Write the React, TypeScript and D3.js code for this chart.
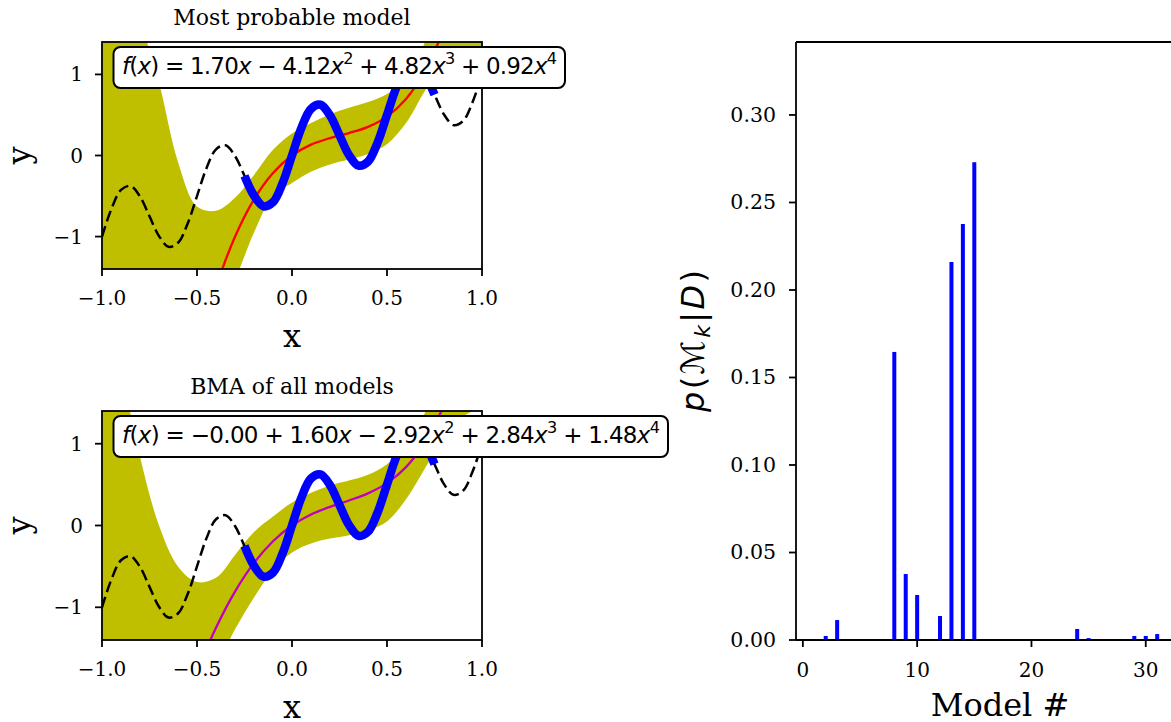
import React from "react";
import * as d3 from "d3";

// ---- values ----
const gridX = [-1.0, -0.9, -0.8, -0.7, -0.6, -0.5, -0.4, -0.3, -0.2, -0.1, 0.0, 0.1, 0.2, 0.3, 0.4, 0.5, 0.6, 0.7, 0.8, 0.9, 1.0];
const bestUpper = [3.6, 2.7, 1.7, 0.9, -0.08, -0.63, -0.68, -0.52, -0.24, 0.07, 0.27, 0.4, 0.51, 0.59, 0.66, 0.76, 0.95, 1.4, 2.1, 2.9, 3.8];
const bestLower = [-7.0, -5.8, -4.7, -3.8, -3.0, -2.4, -1.9, -1.52, -0.95, -0.5, -0.34, -0.2, -0.11, -0.05, 0.02, 0.14, 0.4, 0.8, 1.15, 1.3, 1.32];
const bmaUpper = [3.2, 1.95, 0.84, 0.0, -0.5, -0.69, -0.64, -0.36, -0.08, 0.11, 0.28, 0.4, 0.49, 0.55, 0.62, 0.75, 0.98, 1.38, 2.0, 2.8, 3.6];
const bmaLower = [-6.0, -5.0, -4.1, -3.3, -2.6, -2.05, -1.72, -1.27, -0.88, -0.55, -0.33, -0.22, -0.16, -0.12, -0.06, 0.05, 0.32, 0.7, 1.08, 1.33, 1.45];

const fitX = [-0.6, -0.5, -0.4, -0.3, -0.2, -0.1, 0.0, 0.1, 0.2, 0.3, 0.4, 0.5, 0.6, 0.7, 0.8, 0.9];
const bestFit = [-3.425, -2.425, -1.624, -1.003, -0.542, -0.216, 0, 0.134, 0.215, 0.277, 0.353, 0.48, 0.697, 1.045, 1.568, 2.31];
const bmaFit = [-2.433, -1.793, -1.251, -0.808, -0.457, -0.192, 0, 0.134, 0.228, 0.306, 0.393, 0.518, 0.714, 1.019, 1.472, 2.116];

const trueX = [-1.0, -0.95, -0.9, -0.85, -0.8, -0.75, -0.7, -0.65, -0.6, -0.55, -0.5, -0.45, -0.4, -0.35, -0.3, -0.25, -0.2, -0.15, -0.1, -0.05, 0.0,
  0.05, 0.1, 0.15, 0.2, 0.25, 0.3, 0.35, 0.4, 0.45, 0.5, 0.55, 0.6, 0.65, 0.7, 0.75, 0.8, 0.85, 0.9, 0.95, 1.0];
const trueY = [-1.0, -0.656, -0.425, -0.375, -0.506, -0.75, -0.994, -1.126, -1.076, -0.844, -0.5, -0.156, 0.076, 0.126, -0.006, -0.25, -0.494, -0.626, -0.576, -0.344, 0.0,
  0.344, 0.576, 0.626, 0.494, 0.25, 0.006, -0.126, -0.076, 0.156, 0.5, 0.844, 1.076, 1.126, 0.994, 0.75, 0.506, 0.375, 0.425, 0.656, 1.0];

const dataX = [-0.25, -0.2, -0.15, -0.1, -0.05, 0.0, 0.05, 0.1, 0.15, 0.2, 0.25, 0.3, 0.35, 0.4, 0.45, 0.5, 0.55, 0.6, 0.65, 0.7, 0.75];
const dataY = [-0.25, -0.494, -0.626, -0.576, -0.344, 0.0, 0.344, 0.576, 0.626, 0.494, 0.25, 0.006, -0.126, -0.076, 0.156, 0.5, 0.844, 1.076, 1.126, 0.994, 0.75];

const modelIds = [0, 1, 2, 3, 4, 5, 6, 7, 8, 9, 10, 11, 12, 13, 14, 15, 16, 17, 18, 19, 20, 21, 22, 23, 24, 25, 26, 27, 28, 29, 30, 31, 32];
const modelProbs = [0, 0, 0.0023, 0.0114, 0, 0, 0, 0, 0.1646, 0.0377, 0.0257, 0, 0.0137, 0.216, 0.2377, 0.273, 0, 0, 0, 0, 0, 0, 0, 0,
  0.0063, 0.0011, 0.0005, 0, 0.0005, 0.0023, 0.0023, 0.0034, 0];

const leftXTicks = [-1, -0.5, 0, 0.5, 1];
const leftYTicks = [-1, 0, 1];
const barXTicks = [0, 10, 20, 30];
const barYTicks = [0, 0.05, 0.1, 0.15, 0.2, 0.25, 0.3];

const bestTitle = "Most probable model";
const bmaTitle = "BMA of all models";
const bestEq = "f(x) = 1.70x − 4.12x^2 + 4.82x^3 + 0.92x^4";
const bmaEq = "f(x) = −0.00 + 1.60x − 2.92x^2 + 2.84x^3 + 1.48x^4";

const serif = "DejaVu Serif";
const sans = "DejaVu Sans";

// renders a tiny mathtext-like string: f and x italic, ^n superscript
function MathText({ x, y, src, size, len }) {
  const spans = [];
  let shifted = false;
  for (let i = 0; i < src.length; i++) {
    const c = src[i];
    if (c === "^") {
      spans.push(<tspan key={i} dy={-size * 0.42} fontSize={size * 0.7}>{src[i + 1]}</tspan>);
      shifted = true;
      i++;
      continue;
    }
    const dy = shifted ? size * 0.42 : undefined;
    shifted = false;
    const italic = c === "f" || c === "x";
    spans.push(<tspan key={i} dy={dy} fontStyle={italic ? "italic" : undefined}>{c}</tspan>);
  }
  return (
    <text x={x} y={y} fontFamily={sans} fontSize={size} textLength={len} lengthAdjust="spacing" style={{ whiteSpace: "pre" }}>
      {spans}
    </text>
  );
}

function FitPanel({ id, top, bottom, title, upper, lower, fit, fitColor, eq, boxRight, eqLen }) {
  const left = 102, right = 482;
  const x = d3.scaleLinear().domain([-1, 1]).range([left, right]);
  const y = d3.scaleLinear().domain([-1.4, 1.4]).range([bottom, top]);

  const band = d3.area<number>()
    .x((_, i) => x(gridX[i]))
    .y0((_, i) => y(lower[i]))
    .y1(d => y(d))
    .curve(d3.curveCatmullRom)(upper);
  const line = (xs: number[]) => d3.line<number>()
    .x((_, i) => x(xs[i]))
    .y(d => y(d))
    .curve(d3.curveCatmullRom.alpha(0.5));

  const midX = (left + right) / 2;
  const midY = (top + bottom) / 2;
  const fmtX = d3.format(".1f");
  const fmtY = d3.format("d");

  return (
    <g>
      <defs>
        <clipPath id={id}>
          <rect x={left} y={top} width={right - left} height={bottom - top} />
        </clipPath>
      </defs>
      <g clipPath={`url(#${id})`}>
        <path d={band!} fill="#bfbf00" />
        <path d={line(trueX)(trueY)!} fill="none" stroke="#000" strokeWidth={2.5} strokeDasharray="11,5" />
        <path d={line(fitX)(fit)!} fill="none" stroke={fitColor} strokeWidth={2.3} />
        <path d={line(dataX)(dataY)!} fill="none" stroke="#0000ff" strokeWidth={8.5} strokeLinejoin="round" />
      </g>
      <rect x={left} y={top} width={right - left} height={bottom - top} fill="none" stroke="#000" strokeWidth={1.8} />
      {leftXTicks.map(t => (
        <g key={"x" + t}>
          <line x1={x(t)} x2={x(t)} y1={bottom} y2={bottom + 7} stroke="#000" strokeWidth={1.8} />
          <text x={x(t)} y={bottom + 36} textAnchor="middle" fontFamily={serif} fontSize={20}>{fmtX(t)}</text>
        </g>
      ))}
      {leftYTicks.map(t => (
        <g key={"y" + t}>
          <line x1={left - 7} x2={left} y1={y(t)} y2={y(t)} stroke="#000" strokeWidth={1.8} />
          <text x={left - 19} y={y(t) + 7} textAnchor="end" fontFamily={serif} fontSize={20}>{fmtY(t)}</text>
        </g>
      ))}
      <text x={midX} y={top - 17} textAnchor="middle" fontFamily={serif} fontSize={22}>{title}</text>
      <text x={midX} y={bottom + 78} textAnchor="middle" fontFamily={serif} fontSize={32}>x</text>
      <text transform={`translate(30,${midY}) rotate(-90)`} textAnchor="middle" fontFamily={serif} fontSize={32}>y</text>
      <rect x={113.5} y={top + 5} width={boxRight - 113.5} height={41} rx={7} fill="#fff" stroke="#000" strokeWidth={2} />
      <MathText x={122} y={top + 32} src={eq} size={23} len={eqLen} />
    </g>
  );
}

function BarPanel() {
  const top = 42, bottom = 640, left = 796;
  const x = d3.scaleLinear().domain([-0.6, 33.6]).range([left, left + 34.2 * 11.43]);
  const y = d3.scaleLinear().domain([0, 0.3417]).range([bottom, top]);
  const bw = x(0.35) - x(0);
  const fmtY = d3.format(".2f");
  return (
    <g>
      {modelIds.map((m, i) => modelProbs[i] > 0 && (
        <rect key={m} x={x(m) - bw / 2} y={y(modelProbs[i])} width={bw} height={bottom - y(modelProbs[i])} fill="#0000ff" />
      ))}
      <line x1={left} x2={1200} y1={top} y2={top} stroke="#000" strokeWidth={1.8} />
      <line x1={left} x2={1200} y1={bottom} y2={bottom} stroke="#000" strokeWidth={1.8} />
      <line x1={left} x2={left} y1={top} y2={bottom} stroke="#000" strokeWidth={1.8} />
      {barYTicks.map(t => (
        <g key={"by" + t}>
          <line x1={left - 7} x2={left} y1={y(t)} y2={y(t)} stroke="#000" strokeWidth={1.8} />
          <text x={left - 20} y={y(t) + 7} textAnchor="end" fontFamily={serif} fontSize={20.5}>{fmtY(t)}</text>
        </g>
      ))}
      {barXTicks.map(t => (
        <g key={"bx" + t}>
          <line x1={x(t)} x2={x(t)} y1={bottom} y2={bottom + 7} stroke="#000" strokeWidth={1.8} />
          <text x={x(t)} y={bottom + 37} textAnchor="middle" fontFamily={serif} fontSize={20}>{t}</text>
        </g>
      ))}
      <text x={1000} y={716} textAnchor="middle" fontFamily={serif} fontSize={32}>Model #</text>
      <text transform={`translate(704,341) rotate(-90)`} textAnchor="middle" fontFamily={sans} fontSize={32} textLength={142} lengthAdjust="spacing">
        <tspan fontStyle="italic">p</tspan>(ℳ<tspan fontStyle="italic" fontSize={22} dy={6}>k</tspan><tspan dy={-6}>|</tspan><tspan fontStyle="italic">D</tspan>)
      </text>
    </g>
  );
}

export default function App() {
  return (
    <svg width={1171} height={722} style={{ position: "absolute", left: 0, top: 0, background: "#fff" }}>
      <rect width={1171} height={722} fill="#fff" />
      <FitPanel id="clipBest" top={42} bottom={269} title={bestTitle} upper={bestUpper} lower={bestLower}
        fit={bestFit} fitColor="#ff0000" eq={bestEq} boxRight={565} eqLen={435} />
      <FitPanel id="clipBma" top={411} bottom={640} title={bmaTitle} upper={bmaUpper} lower={bmaLower}
        fit={bmaFit} fitColor="#bf00bf" eq={bmaEq} boxRight={668} eqLen={538} />
      <BarPanel />
    </svg>
  );
}
